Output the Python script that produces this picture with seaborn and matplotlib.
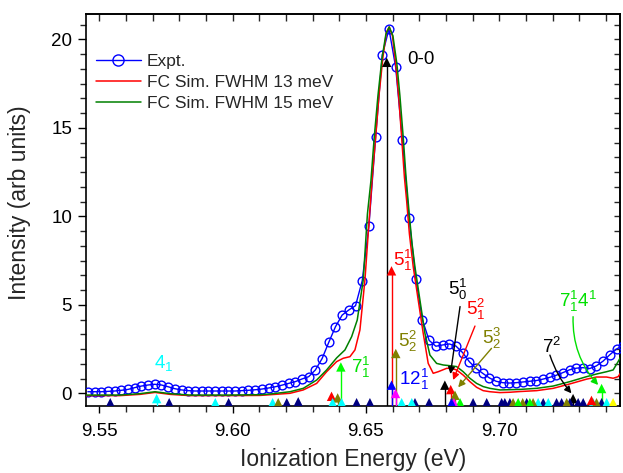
import numpy as np
import pandas as pd
import seaborn as sns
import matplotlib
matplotlib.use("Agg")
import matplotlib.pyplot as plt
from matplotlib.ticker import AutoMinorLocator, MultipleLocator

# ---------------- data ----------------
expt_start = 9.5457
expt_step = 0.00251
expt_intensity = [0.09, 0.09, 0.09, 0.11, 0.13, 0.17, 0.22, 0.32, 0.41, 0.47,
                  0.51, 0.47, 0.37, 0.26, 0.19, 0.15, 0.13, 0.13, 0.13, 0.13,
                  0.13, 0.13, 0.13, 0.15, 0.17, 0.20, 0.24, 0.30, 0.37, 0.46,
                  0.56, 0.66, 0.81, 0.94, 1.32, 1.96, 2.88, 3.76, 4.42, 4.71,
                  4.95, 6.36, 9.46, 14.46, 19.13, 20.58, 18.42, 14.33, 9.93, 6.48,
                  4.14, 2.99, 2.66, 2.73, 2.79, 2.67, 2.30, 1.79, 1.41, 1.13,
                  0.87, 0.68, 0.60, 0.58, 0.60, 0.64, 0.68, 0.72, 0.80, 0.90,
                  1.02, 1.17, 1.33, 1.42, 1.45, 1.40, 1.55, 1.82, 2.18, 2.50, 2.70]
expt_energy = expt_start + expt_step * np.arange(len(expt_intensity))

sim13_energy = [9.54501, 9.55776, 9.56526, 9.57088, 9.57651, 9.58401, 9.59901, 9.61026,
                9.61401, 9.62151, 9.62649, 9.63152, 9.63526, 9.63901, 9.64149, 9.64400,
                9.64588, 9.64775, 9.64962, 9.65131, 9.65244, 9.65364, 9.65488, 9.65638,
                9.65769, 9.65874, 9.65994, 9.66125, 9.66237, 9.66339, 9.66444, 9.66526,
                9.66631, 9.66774, 9.66961, 9.67149, 9.67336, 9.67524, 9.67711, 9.68026,
                9.68187, 9.68401, 9.68648, 9.68899, 9.69151, 9.69398, 9.69649, 9.70024,
                9.70399, 9.70774, 9.71400, 9.72023, 9.72649, 9.73275, 9.73650, 9.74025,
                9.74273, 9.74460, 9.74561]
sim13_intensity = [-0.13, -0.13, -0.06, 0.05, -0.06, -0.13, -0.13, -0.12,
                   -0.08, 0.00, 0.19, 0.56, 1.22, 1.79, 1.98, 2.07,
                   2.45, 3.58, 6.40, 10.0, 12.3, 14.46, 16.8, 19.0,
                   20.4, 20.7, 20.2, 18.5, 16.6, 14.46, 12.2, 10.9,
                   9.0, 7.15, 5.27, 3.39, 1.69, 1.13, 1.22, 1.41,
                   1.42, 1.32, 1.03, 0.66, 0.34, 0.15, 0.09, 0.04,
                   0.06, 0.10, 0.15, 0.28, 0.53, 0.80, 0.92, 0.92,
                   0.85, 0.94, 1.17]

sim15_energy = [9.54501, 9.55776, 9.56526, 9.57088, 9.57651, 9.58401, 9.59901, 9.61026,
                9.61401, 9.62151, 9.62649, 9.63152, 9.63526, 9.63901, 9.64213, 9.64464,
                9.64674, 9.64899, 9.65056, 9.65187, 9.65311, 9.65450, 9.65600, 9.65750,
                9.65874, 9.66012, 9.66162, 9.66275, 9.66399, 9.66500, 9.66624, 9.66726,
                9.66838, 9.67025, 9.67213, 9.67400, 9.67651, 9.67899, 9.68150, 9.68401,
                9.68648, 9.68899, 9.69151, 9.69398, 9.69649, 9.70024, 9.70774, 9.71400,
                9.72023, 9.72649, 9.73275, 9.73650, 9.74025, 9.74273, 9.74460, 9.74561]
sim15_intensity = [-0.10, -0.10, -0.02, 0.09, -0.02, -0.10, -0.10, -0.08,
                   -0.04, 0.09, 0.28, 0.75, 1.32, 2.00, 2.45, 3.20,
                   4.14, 6.40, 10.13, 12.0, 14.46, 16.8, 18.9, 20.3,
                   20.7, 20.2, 18.6, 16.8, 14.46, 12.3, 10.13, 8.5,
                   7.15, 5.27, 3.39, 2.16, 1.69, 1.60, 1.56, 1.51,
                   1.22, 0.85, 0.56, 0.38, 0.28, 0.19, 0.22, 0.28,
                   0.41, 0.66, 0.94, 1.09, 1.22, 1.32, 1.79, 2.07]

# stick spectrum (energy, height, colour)
stick_energy = [9.6578, 9.6596, 9.6596, 9.6612, 9.6611, 9.6406, 9.6371, 9.6394,
                9.6796, 9.6818, 9.6834, 9.7277, 9.7384, 9.6246, 9.5715,
                9.5541, 9.5762, 9.5985, 9.6203, 9.6465, 9.6515, 9.6684, 9.6737,
                9.6902, 9.6953, 9.7009, 9.7021, 9.7040, 9.7103, 9.7165, 9.7215,
                9.7234, 9.7265, 9.7296, 9.7315, 9.7384,
                9.5935, 9.6150, 9.6375, 9.6409, 9.6634, 9.6672, 9.7146, 9.7184, 9.7352, 9.7403,
                9.6171, 9.7052, 9.7088, 9.7127, 9.7253, 9.7365,
                9.6853, 9.7071, 9.7115, 9.6830, 9.6821, 9.7346, 9.7427]
stick_height = [18.9, 7.12, 0.66, 2.45, 0.19, 1.69, 0.03, -0.06,
                0.66, 0.41, 0.09, -0.10, 0.47, -0.28, -0.10,
                -0.33, -0.33, -0.33, -0.33, -0.33, -0.33, -0.33, -0.33,
                -0.33, -0.33, -0.33, -0.33, -0.33, -0.33, -0.33, -0.33,
                -0.33, -0.33, -0.33, -0.33, -0.33,
                -0.33, -0.33, -0.33, -0.33, -0.33, -0.33, -0.33, -0.33, -0.33, -0.33,
                -0.33, -0.33, -0.33, -0.33, -0.33, -0.33,
                -0.33, -0.33, -0.33, -0.33, -0.33, -0.20, -0.33]
stick_color = ["black", "red", "blue", "olive", "magenta", "lime", "red", "olive",
               "black", "red", "olive", "black", "lime", "navy", "cyan",
               "navy", "navy", "navy", "navy", "navy", "navy", "navy", "navy",
               "navy", "navy", "navy", "navy", "navy", "navy", "navy", "navy",
               "navy", "navy", "navy", "navy", "navy",
               "cyan", "cyan", "cyan", "cyan", "cyan", "cyan", "cyan", "cyan", "cyan", "cyan",
               "olive", "olive", "olive", "olive", "olive", "olive",
               "lime", "lime", "lime", "magenta", "blue", "red", "yellow"]

# peak labels: text, energy, baseline intensity, colour
label_text = ["0-0", r"$\mathregular{5_1^1}$", r"$\mathregular{5_2^2}$", r"$\mathregular{12_1^1}$",
              r"$\mathregular{7_1^1}$", r"$\mathregular{4_1}$", r"$\mathregular{5_0^1}$",
              r"$\mathregular{5_1^2}$", r"$\mathregular{5_2^3}$", r"$\mathregular{7^2}$",
              r"$\mathregular{7_1^14^1}$"]
label_energy = [9.6655, 9.6602, 9.6621, 9.6625, 9.6443, 9.5706, 9.6809, 9.6874, 9.6934, 9.7159, 9.7225]
label_y = [18.6, 7.19, 2.63, 0.47, 1.13, 1.41, 5.55, 4.42, 2.79, 2.26, 4.89]
label_color = ["black", "red", "olive", "blue", "#00E000", "cyan", "black", "red", "olive", "black", "#00E000"]

# annotation arrows: start (E, I) -> end (E, I)
arrow_start_e = [9.6853, 9.6909, 9.6971, 9.7190, 9.7277]
arrow_start_i = [4.90, 3.80, 2.54, 2.16, 4.33]
arrow_end_e = [9.6817, 9.6827, 9.6846, 9.7271, 9.7371]
arrow_end_i = [1.09, 0.75, 0.34, 0.00, 0.47]
arrow_color = ["black", "red", "olive", "black", "#00E000"]
arrow_rad = [0.0, 0.0, 0.0, 0.1, 0.2]

# ---------------- plot ----------------
sns.set_theme(style="ticks")
plt.rcParams["font.family"] = ["Liberation Sans", "DejaVu Sans"]
plt.rcParams["mathtext.fontset"] = "custom"
plt.rcParams["mathtext.rm"] = "Liberation Sans"

fig = plt.figure(figsize=(6.23, 4.73), dpi=100)
ax = fig.add_axes([86 / 623, 1 - 406 / 473, (620 - 86) / 623, (406 - 14) / 473])

XMIN, XMAX = 9.545, 9.7453
YMIN, YMAX = -0.717, 21.43

sns.lineplot(x=expt_energy, y=expt_intensity, ax=ax, color="#0000FF", lw=1.0,
             marker="o", markersize=6.3, mfc="none", mec="#0000FF", mew=1.0,
             label="Expt.", sort=False, zorder=3)
sns.lineplot(x=sim13_energy, y=sim13_intensity, ax=ax, color="#FF0000", lw=1.1,
             label="FC Sim. FWHM 13 meV", sort=False, zorder=4)
sns.lineplot(x=sim15_energy, y=sim15_intensity, ax=ax, color="#008000", lw=1.1,
             label="FC Sim. FWHM 15 meV", sort=False, zorder=4)

# sticks
head = 0.20  # half of arrowhead height in data units
tops = [h - head for h in stick_height]
ax.vlines(stick_energy, YMIN, tops, colors=stick_color, lw=1.0, zorder=5)
ax.scatter(stick_energy, [h - head for h in stick_height], marker="^", s=46,
           c=stick_color, linewidths=0, zorder=6)

for t, e, yv, c in zip(label_text, label_energy, label_y, label_color):
    ax.text(e, yv, t, color=c, fontsize=13.5, ha="left", va="baseline", zorder=7)

for se, si, ee, ei, c, r in zip(arrow_start_e, arrow_start_i, arrow_end_e, arrow_end_i,
                                arrow_color, arrow_rad):
    ax.annotate("", xy=(ee, ei), xytext=(se, si),
                arrowprops=dict(arrowstyle="-|>", color=c, lw=1.0, mutation_scale=10,
                                shrinkA=0, shrinkB=0,
                                connectionstyle=f"arc3,rad={r}"), zorder=7)

ax.set_xlim(XMIN, XMAX)
ax.set_ylim(YMIN, YMAX)

ax.xaxis.set_major_locator(MultipleLocator(0.05))
ax.xaxis.set_minor_locator(AutoMinorLocator(5))
ax.yaxis.set_major_locator(MultipleLocator(5))
ax.yaxis.set_minor_locator(AutoMinorLocator(6))
ax.xaxis.set_major_formatter(plt.FuncFormatter(lambda v, p: f"{v:.2f}"))

ax.tick_params(axis="x", which="major", direction="out", length=5, width=1.0,
               labelsize=13.5, pad=7, colors="black")
ax.tick_params(axis="x", which="minor", direction="out", length=4, width=1.0)
ax.tick_params(axis="y", which="major", direction="out", length=6, width=1.0,
               labelsize=13.5, pad=4, colors="black")
ax.tick_params(axis="y", which="minor", direction="out", length=4, width=1.0)

top = ax.secondary_xaxis("top")
top.xaxis.set_major_locator(MultipleLocator(0.05))
top.xaxis.set_minor_locator(AutoMinorLocator(5))
top.tick_params(which="both", direction="in", length=5, width=1.0, labeltop=False)
right = ax.secondary_yaxis("right")
right.yaxis.set_major_locator(MultipleLocator(5))
right.yaxis.set_minor_locator(AutoMinorLocator(6))
right.tick_params(which="both", direction="in", length=4, width=1.0, labelright=False)
for a in (top, right):
    for s in a.spines.values():
        s.set_linewidth(1.2)
        s.set_color("black")

for s in ax.spines.values():
    s.set_visible(True)
    s.set_linewidth(1.2)
    s.set_color("black")

ax.set_xlabel("Ionization Energy (eV)", fontsize=16.5)
ax.set_ylabel("Intensity (arb units)", fontsize=16.5)
ax.xaxis.set_label_coords(0.5, -0.107)
ax.yaxis.set_label_coords(-0.103, 0.518)

leg = ax.legend(loc="upper left", bbox_to_anchor=(0.005, 0.917), frameon=False,
                fontsize=12.5, handlelength=2.6, handletextpad=0.35,
                labelspacing=0.35, borderaxespad=0.0)
leg.legend_handles[0].set_markersize(8)

fig.savefig("out.png", dpi=100)
